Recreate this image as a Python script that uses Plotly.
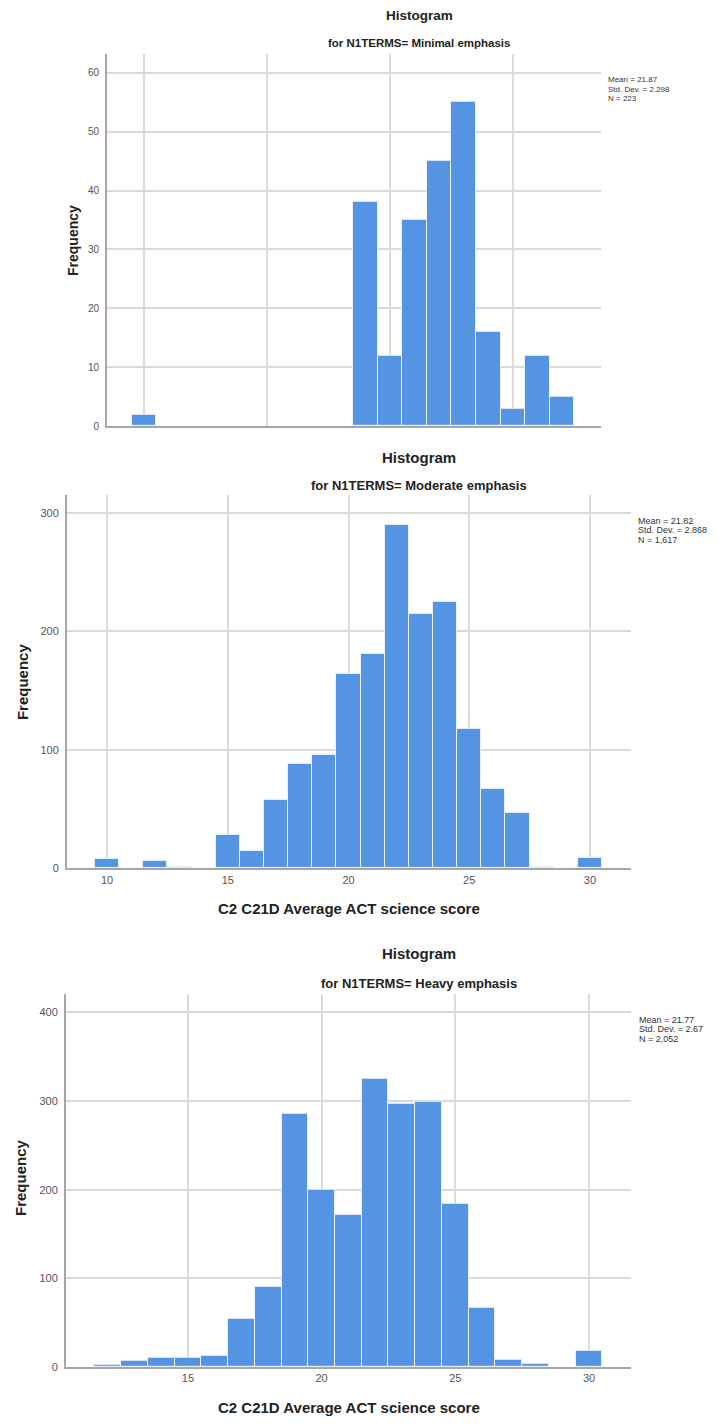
import plotly.graph_objects as go

W, H = 718, 1425
OFF = 8  # page body margin
FW, FH = W - 2 * OFF, H - 2 * OFF

# ---------------- data ----------------
titles = ["for N1TERMS= Minimal emphasis",
          "for N1TERMS= Moderate emphasis",
          "for N1TERMS= Heavy emphasis"]

score_min = [10, 19, 20, 21, 22, 23, 24, 25, 26, 27]
freq_min = [2, 38, 12, 35, 45, 55, 16, 3, 12, 5]

score_mod = [10, 12, 13, 15, 16, 17, 18, 19, 20, 21, 22, 23, 24, 25, 26, 27, 28, 30]
freq_mod = [8, 6, 1, 28, 15, 58, 88, 96, 164, 181, 290, 215, 225, 118, 67, 47, 1, 9]

score_hvy = [12, 13, 14, 15, 16, 17, 18, 19, 20, 21, 22, 23, 24, 25, 26, 27, 28, 30]
freq_hvy = [3, 7, 11, 11, 13, 55, 91, 286, 200, 172, 325, 297, 299, 184, 67, 8, 4, 19]

stats_min = ["Mean = 21.87", "Std. Dev. = 2.298", "N = 223"]
stats_mod = ["Mean = 21.82", "Std. Dev. = 2.868", "N = 1,617"]
stats_hvy = ["Mean = 21.77", "Std. Dev. = 2.67", "N = 2,052"]

x_ticks = [10, 15, 20, 25, 30]
x_title = "C2 C21D Average ACT science score"
y_title = "Frequency"

BAR = "#5594e3"
GRID = "#dadada"
AXIS = "#a6a6a6"
TICK = "#555555"
FONT = "Liberation Sans, Arial, sans-serif"


def px(x):
    return (x - OFF) / FW


def py(y):
    return 1 - (y - OFF) / FH


panels = [
    dict(x=score_min, y=freq_min, stats=stats_min, title=titles[0],
         dom_x=(107, 601), dom_y=(54, 428), xr=(8.496, 28.58), yr=(0, 63.2), dy=10,
         show_xlabels=False, tfs=10, sfs=11.5, hfs=13.5, stx=606, sty=80, stfs=8,
         ty=16, sy=43, fx=73, fy=242, ffs=14),
    dict(x=score_mod, y=freq_mod, stats=stats_mod, title=titles[1],
         dom_x=(67, 631), dom_y=(497, 872), xr=(8.34, 31.70), yr=(0, 315), dy=100,
         show_xlabels=True, tfs=11, sfs=13, hfs=15, stx=636, sty=523, stfs=9,
         ty=459, sy=488, fx=22, fy=685, ffs=15, xty=912),
    dict(x=score_hvy, y=freq_hvy, stats=stats_hvy, title=titles[2],
         dom_x=(66, 631), dom_y=(998, 1373), xr=(10.44, 31.57), yr=(0, 421), dy=100,
         show_xlabels=True, tfs=11, sfs=13, hfs=15, stx=637, sty=1024, stfs=9,
         ty=958, sy=988, fx=21, fy=1183, ffs=15, xty=1413),
]

fig = go.Figure()
annotations = []
layout = dict(width=FW, height=FH, margin=dict(l=0, r=0, t=0, b=0),
              paper_bgcolor="white", plot_bgcolor="white", showlegend=False,
              font=dict(family=FONT, color=TICK), bargap=0)

for i, p in enumerate(panels, start=1):
    xa = "x" if i == 1 else f"x{i}"
    ya = "y" if i == 1 else f"y{i}"
    fig.add_trace(go.Bar(x=p["x"], y=p["y"], width=1, xaxis=xa, yaxis=ya,
                         marker=dict(color=BAR, line=dict(color="#eaf1fb", width=1)),
                         hoverinfo="x+y"))
    xk = "xaxis" if i == 1 else f"xaxis{i}"
    yk = "yaxis" if i == 1 else f"yaxis{i}"
    layout[xk] = dict(domain=[px(p["dom_x"][0]), px(p["dom_x"][1])], range=list(p["xr"]),
                      anchor=ya, tickvals=x_ticks, showticklabels=p["show_xlabels"],
                      showgrid=True, gridcolor=GRID, gridwidth=1.5, zeroline=False,
                      showline=True, linecolor=AXIS, linewidth=2, ticks="",
                      tickfont=dict(size=p["tfs"], color=TICK, family=FONT))
    layout[yk] = dict(domain=[py(p["dom_y"][1]), py(p["dom_y"][0])], range=list(p["yr"]),
                      anchor=xa, dtick=p["dy"], tick0=0, showgrid=True, gridcolor=GRID,
                      gridwidth=1.5, zeroline=False, showline=True, linecolor=AXIS,
                      linewidth=2, ticks="", ticklabelstandoff=4,
                      tickfont=dict(size=p["tfs"], color=TICK, family=FONT))
    # titles
    annotations.append(dict(text="<b>Histogram</b>", x=px(419), y=py(p["ty"]), xref="paper",
                            yref="paper", showarrow=False, xanchor="center", yanchor="middle",
                            font=dict(size=p["hfs"], color="#222222", family=FONT)))
    annotations.append(dict(text="<b>" + p["title"] + "</b>", x=px(419), y=py(p["sy"]),
                            xref="paper", yref="paper", showarrow=False,
                            xanchor="center", yanchor="middle",
                            font=dict(size=p["sfs"], color="#222222", family=FONT)))
    annotations.append(dict(text="<b>" + y_title + "</b>", x=px(p["fx"]), y=py(p["fy"]),
                            xref="paper", yref="paper", showarrow=False, textangle=-90,
                            xanchor="center", yanchor="middle",
                            font=dict(size=p["ffs"], color="#222222", family=FONT)))
    for k, line in enumerate(p["stats"]):
        annotations.append(dict(text=line, x=px(p["stx"]), y=py(p["sty"] + k * 9.5),
                                xref="paper", yref="paper", showarrow=False,
                                xanchor="left", yanchor="middle",
                                font=dict(size=p["stfs"], color="#333333", family=FONT)))
    if p["show_xlabels"]:
        annotations.append(dict(text="<b>" + x_title + "</b>", x=px(349), y=py(p["xty"]),
                                xref="paper", yref="paper", showarrow=False,
                                xanchor="center", yanchor="middle",
                                font=dict(size=15, color="#222222", family=FONT)))

layout["annotations"] = annotations
fig.update_layout(**layout)
fig.write_html("out.html")
